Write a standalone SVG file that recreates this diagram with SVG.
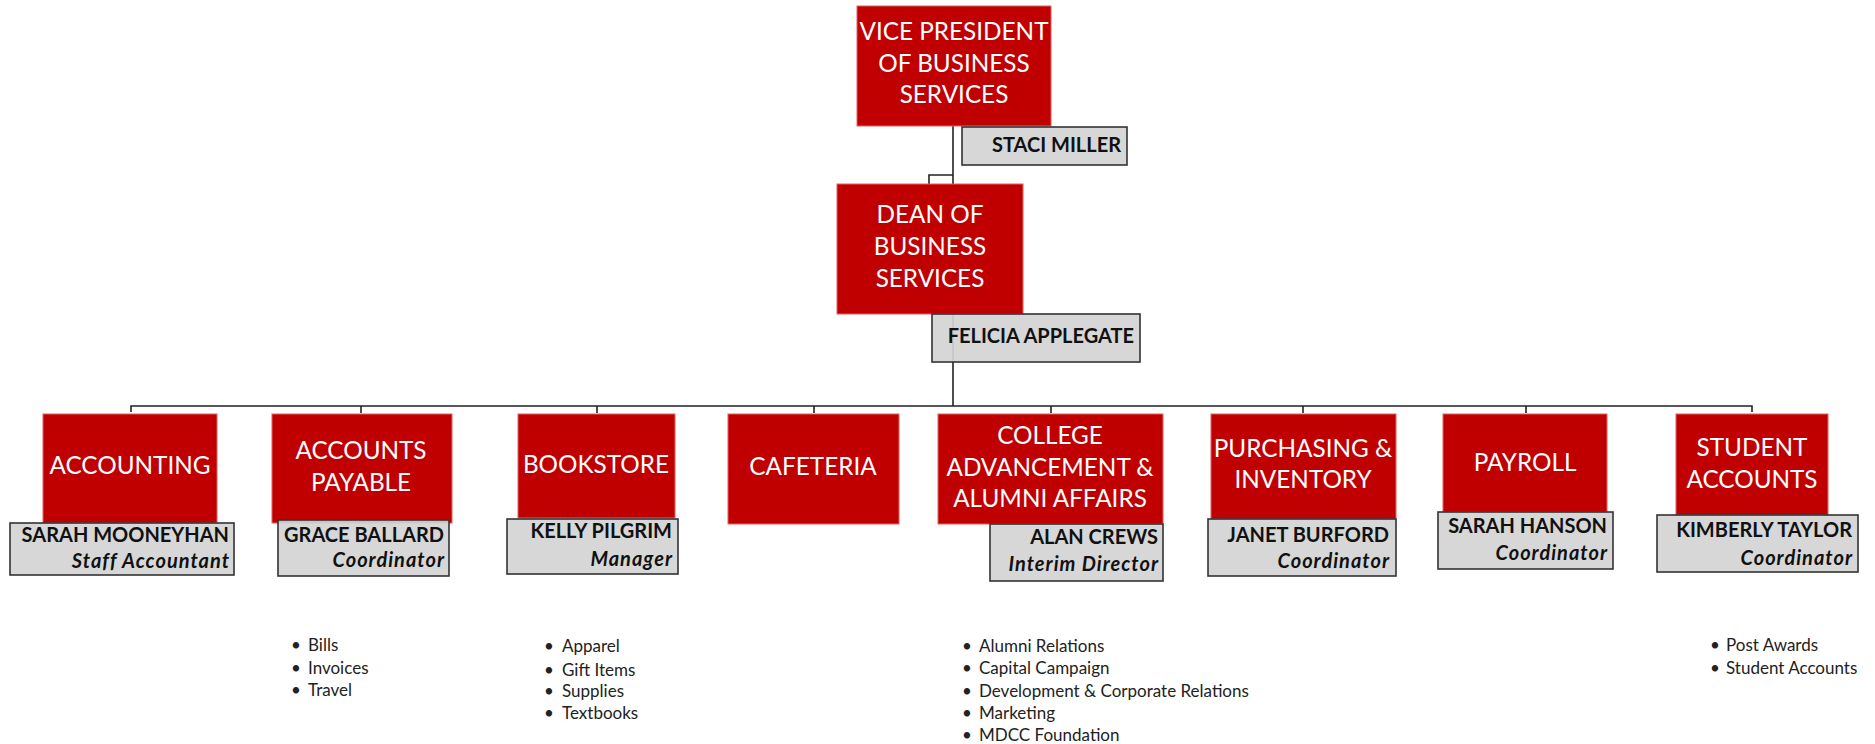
<svg xmlns="http://www.w3.org/2000/svg" width="1875" height="744" viewBox="0 0 1875 744">
<style>
.box{fill:#C00000;stroke:#E06060;stroke-width:1}
.tt{fill:#FFFFFF;font-family:Lato,"Liberation Sans",sans-serif;font-size:24.3px;text-anchor:middle}
.nb{fill:#D4D4D4;fill-opacity:0.92;stroke:#333333;stroke-width:1.6}
.nm{fill:#111111;font-family:Lato,"Liberation Sans",sans-serif;font-size:20px;font-weight:bold;text-anchor:end}
.rl{fill:#111111;font-family:Lato,"Liberation Sans",sans-serif;font-size:20px;font-weight:bold;font-style:italic;letter-spacing:1px;text-anchor:end}
.li{fill:#222222;font-family:Lato,"Liberation Sans",sans-serif;font-size:17px}
.ln{fill:none;stroke:#222222;stroke-width:1.6}
</style>
<rect width="1875" height="744" fill="#FFFFFF"/>
<g id="connectors">
<path class="ln" d="M953,126 V406" stroke-width="2.5"/>
<path class="ln" d="M953,175 H929 V184"/>
<path class="ln" d="M131,412 V406 H1752 V412"/>
<path class="ln" d="M361,406 V413 M597,406 V413 M814,406 V413 M1051,406 V413 M1303,406 V413 M1526,406 V413"/>
</g>
<g id="vp">
<rect class="box" x="857" y="6" width="194" height="120"/>
<text class="tt" x="954" y="40">VICE PRESIDENT</text>
<text class="tt" x="954" y="72">OF BUSINESS</text>
<text class="tt" x="954" y="103">SERVICES</text>
<rect class="nb" x="962" y="127" width="165" height="38"/>
<text class="nm" x="1121" y="152">STACI MILLER</text>
</g>
<g id="dean">
<rect class="box" x="837" y="184" width="186" height="130"/>
<text class="tt" x="930" y="223">DEAN OF</text>
<text class="tt" x="930" y="255">BUSINESS</text>
<text class="tt" x="930" y="287">SERVICES</text>
<rect class="nb" x="932" y="314" width="208" height="48"/>
<text class="nm" x="1134" y="343">FELICIA APPLEGATE</text>
</g>
<g id="accounting">
<rect class="box" x="43" y="414" width="174" height="109"/>
<text class="tt" x="130" y="474">ACCOUNTING</text>
<rect class="nb" x="10" y="523" width="224" height="52"/>
<text class="nm" x="229" y="542">SARAH MOONEYHAN</text>
<text class="rl" x="230" y="568">Staff Accountant</text>
</g>
<g id="accounts-payable">
<rect class="box" x="272" y="414" width="180" height="109"/>
<text class="tt" x="361" y="459">ACCOUNTS</text>
<text class="tt" x="361" y="491">PAYABLE</text>
<rect class="nb" x="278" y="520" width="171" height="56"/>
<text class="nm" x="444" y="542">GRACE BALLARD</text>
<text class="rl" x="445" y="567">Coordinator</text>
<text class="li" x="291" y="651">•</text><text class="li" x="308" y="651">Bills</text>
<text class="li" x="291" y="674">•</text><text class="li" x="308" y="674">Invoices</text>
<text class="li" x="291" y="696">•</text><text class="li" x="308" y="696">Travel</text>
</g>
<g id="bookstore">
<rect class="box" x="518" y="414" width="157" height="104"/>
<text class="tt" x="596" y="473">BOOKSTORE</text>
<rect class="nb" x="507" y="519" width="171" height="55"/>
<text class="nm" x="672" y="538">KELLY PILGRIM</text>
<text class="rl" x="673" y="566">Manager</text>
<text class="li" x="544" y="652">•</text><text class="li" x="562" y="652">Apparel</text>
<text class="li" x="544" y="676">•</text><text class="li" x="562" y="676">Gift Items</text>
<text class="li" x="544" y="697">•</text><text class="li" x="562" y="697">Supplies</text>
<text class="li" x="544" y="719">•</text><text class="li" x="562" y="719">Textbooks</text>
</g>
<g id="cafeteria">
<rect class="box" x="728" y="414" width="171" height="110"/>
<text class="tt" x="813" y="475">CAFETERIA</text>
</g>
<g id="college-advancement">
<rect class="box" x="938" y="414" width="225" height="110"/>
<text class="tt" x="1050" y="444">COLLEGE</text>
<text class="tt" x="1050" y="476">ADVANCEMENT &amp;</text>
<text class="tt" x="1050" y="507">ALUMNI AFFAIRS</text>
<rect class="nb" x="990" y="524" width="173" height="57"/>
<text class="nm" x="1158" y="544">ALAN CREWS</text>
<text class="rl" x="1159" y="571">Interim Director</text>
<text class="li" x="962" y="652">•</text><text class="li" x="979" y="652">Alumni Relations</text>
<text class="li" x="962" y="674">•</text><text class="li" x="979" y="674">Capital Campaign</text>
<text class="li" x="962" y="697">•</text><text class="li" x="979" y="697">Development &amp; Corporate Relations</text>
<text class="li" x="962" y="719">•</text><text class="li" x="979" y="719">Marketing</text>
<text class="li" x="962" y="741">•</text><text class="li" x="979" y="741">MDCC Foundation</text>
</g>
<g id="purchasing">
<rect class="box" x="1211" y="414" width="185" height="105"/>
<text class="tt" x="1303" y="457">PURCHASING &amp;</text>
<text class="tt" x="1303" y="488">INVENTORY</text>
<rect class="nb" x="1208" y="519" width="188" height="57"/>
<text class="nm" x="1389" y="542">JANET BURFORD</text>
<text class="rl" x="1390" y="568">Coordinator</text>
</g>
<g id="payroll">
<rect class="box" x="1443" y="414" width="164" height="98"/>
<text class="tt" x="1525" y="471">PAYROLL</text>
<rect class="nb" x="1438" y="512" width="175" height="57"/>
<text class="nm" x="1607" y="533">SARAH HANSON</text>
<text class="rl" x="1608" y="560">Coordinator</text>
</g>
<g id="student-accounts">
<rect class="box" x="1676" y="414" width="152" height="101"/>
<text class="tt" x="1752" y="456">STUDENT</text>
<text class="tt" x="1752" y="488">ACCOUNTS</text>
<rect class="nb" x="1657" y="515" width="201" height="57"/>
<text class="nm" x="1852" y="537">KIMBERLY TAYLOR</text>
<text class="rl" x="1853" y="565">Coordinator</text>
<text class="li" x="1710" y="651">•</text><text class="li" x="1726" y="651">Post Awards</text>
<text class="li" x="1710" y="674">•</text><text class="li" x="1726" y="674">Student Accounts</text>
</g>
</svg>
